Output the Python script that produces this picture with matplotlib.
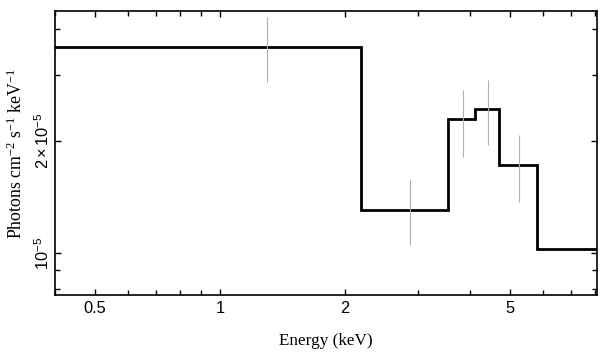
import matplotlib
matplotlib.use("Agg")
import matplotlib.pyplot as plt
from matplotlib.ticker import FixedLocator, FixedFormatter, NullFormatter

# Data
bin_edges = [0.35, 2.18, 3.54, 4.12, 4.71, 5.80, 9.0]
model_values = [3.58e-5, 1.31e-5, 2.29e-5, 2.43e-5, 1.72e-5, 1.025e-5]
err_x = [1.30, 2.87, 3.84, 4.42, 5.25]
err_low = [2.87e-5, 1.053e-5, 1.815e-5, 1.95e-5, 1.375e-5]
err_high = [4.31e-5, 1.58e-5, 2.74e-5, 2.92e-5, 2.075e-5]

x_major = [0.5, 1, 2, 5]
x_major_labels = ["0.5", "1", "2", "5"]
x_minor = [0.4, 0.6, 0.7, 0.8, 0.9, 3, 4, 6, 7, 8]
y_major = [1e-5, 2e-5]
y_major_labels = [r"$\mathsf{10^{-5}}$", r"$\mathsf{2\times10^{-5}}$"]
y_minor = [8e-6, 9e-6, 3e-5, 4e-5]

plt.rcParams['mathtext.fontset'] = 'custom'
plt.rcParams['mathtext.rm'] = 'Liberation Serif'
plt.rcParams['mathtext.it'] = 'Liberation Serif:italic'
plt.rcParams['mathtext.sf'] = 'Liberation Sans'
plt.rcParams['font.family'] = ['Liberation Sans', 'DejaVu Sans']

fig = plt.figure(figsize=(6.09, 3.57), dpi=100)
ax = fig.add_axes([55/609, 1-295/357, (597-55)/609, (295-11)/357])

ax.vlines(err_x, err_low, err_high, colors='#b0b0b0', linewidth=0.8)
ax.stairs(model_values, bin_edges, baseline=None, color='black', linewidth=2.0)

ax.set_xscale('log')
ax.set_yscale('log')
ax.set_xlim(0.40, 8.1)
ax.set_ylim(7.73e-6, 4.46e-5)

ax.xaxis.set_major_locator(FixedLocator(x_major))
ax.xaxis.set_major_formatter(FixedFormatter(x_major_labels))
ax.xaxis.set_minor_locator(FixedLocator(x_minor))
ax.xaxis.set_minor_formatter(NullFormatter())
ax.yaxis.set_major_locator(FixedLocator(y_major))
ax.yaxis.set_major_formatter(FixedFormatter(y_major_labels))
ax.yaxis.set_minor_locator(FixedLocator(y_minor))
ax.yaxis.set_minor_formatter(NullFormatter())

ax.tick_params(which='both', direction='in', top=True, right=True, width=1.0, labelsize=11.8)
ax.tick_params(which='major', length=4)
ax.tick_params(which='minor', length=3.5)
ax.tick_params(axis='x', pad=4.5)
ax.tick_params(axis='y', pad=2.5)
for lab in ax.get_yticklabels():
    lab.set_rotation(90)
    lab.set_va('center')

for s in ax.spines.values():
    s.set_linewidth(1.2)

ax.set_xlabel("Energy (keV)", family=['Liberation Serif', 'DejaVu Serif'], fontsize=12.3, labelpad=12)
ax.set_ylabel(r"Photons cm$^{-2}$ s$^{-1}$ keV$^{-1}$", family=['Liberation Serif', 'DejaVu Serif'], fontsize=12.8, labelpad=5)

fig.savefig("out.png", dpi=100)
